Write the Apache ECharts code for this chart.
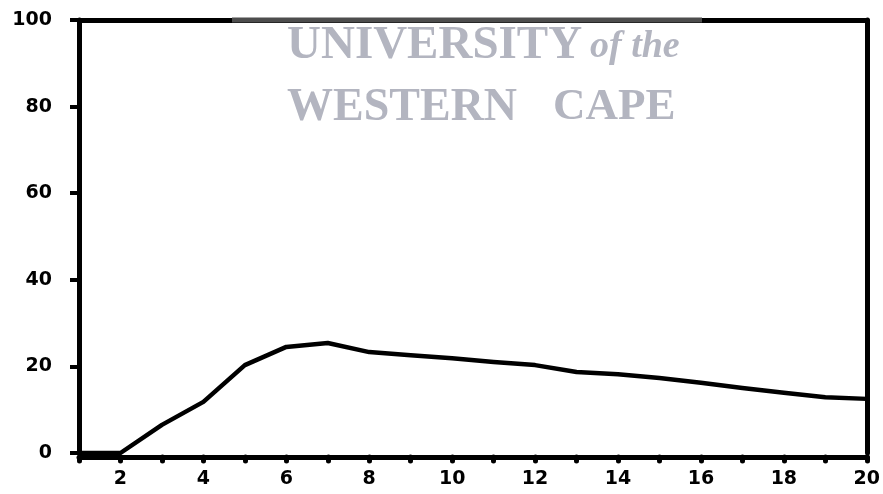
<!DOCTYPE html>
<html>
<head>
<meta charset="utf-8">
<script src="https://cdn.jsdelivr.net/npm/echarts@6/dist/echarts.min.js"></script>
<style>
html,body{margin:0;padding:0;background:#fff;}
#chart{width:883px;height:494px;}
</style>
</head>
<body>
<div id="chart"></div>
<script>
const xValues = [1,2,3,4,5,6,7,8,9,10,11,12,13,14,15,16,17,18,19,20];
const yValues = [0,0,6.5,11.8,20.3,24.5,25.4,23.3,22.6,21.9,21.0,20.3,18.7,18.2,17.3,16.2,15.0,13.9,12.9,12.5];
const yTicks = [0,20,40,60,80,100];
const watermarkLine1 = 'UNIVERSITY';
const watermarkLine1b = 'of the';
const watermarkWord1 = 'WESTERN';
const watermarkWord2 = 'CAPE';

const chart = echarts.init(document.getElementById('chart'), null, {renderer:'canvas'});
const labelFont = {fontFamily:'DejaVu Sans, Liberation Sans, sans-serif', fontWeight:'bold', fontSize:19, color:'#000'};
const wmColor = '#b3b5c0';
const wmFont = 'Liberation Serif, DejaVu Serif, serif';

chart.setOption({
  animation:false,
  backgroundColor:'#fff',
  grid:{left:79,right:13,top:20,bottom:41,containLabel:false},
  xAxis:[{
    type:'value', min:1, max:20, interval:1, offset:4,
    axisLine:{show:true,onZero:false,lineStyle:{color:'#000',width:5}},
    axisTick:{show:true,inside:false,length:4,lineStyle:{color:'#000',width:5,cap:'round'}},
    axisLabel:Object.assign({margin:13,formatter:v=>v%2===0?String(v):''},labelFont),
    splitLine:{show:false}
  },{
    type:'value', min:1, max:20, position:'top',
    axisLine:{show:true,onZero:false,lineStyle:{color:'#000',width:5}},
    axisTick:{show:false}, axisLabel:{show:false}, splitLine:{show:false}
  }],
  yAxis:[{
    type:'value', min:yTicks[0], max:yTicks[yTicks.length-1], interval:20,
    axisLine:{show:true,onZero:false,lineStyle:{color:'#000',width:5}},
    axisTick:{show:true,length:9,lineStyle:{color:'#000',width:4}},
    axisLabel:Object.assign({margin:27},labelFont),
    splitLine:{show:false}
  },{
    type:'value', min:0, max:100, position:'right',
    axisLine:{show:true,onZero:false,lineStyle:{color:'#000',width:5}},
    axisTick:{show:false}, axisLabel:{show:false}, splitLine:{show:false}
  }],
  series:[{
    type:'line',
    data:xValues.map((x,i)=>[x,yValues[i]]),
    symbol:'none',
    lineStyle:{color:'#000',width:4.5,join:'round'},
    z:3
  }],
  graphic:[
    {type:'rect',shape:{x:232,y:17.5,width:470,height:5},style:{fill:'#4d4d4d'},z:50},
    {type:'text',left:287,top:22,style:{text:watermarkLine1,font:'bold 47px '+wmFont,fill:wmColor},z:50},
    {type:'text',left:590,top:28,style:{text:watermarkLine1b,font:'italic bold 38px '+wmFont,fill:wmColor},z:50},
    {type:'text',left:287,top:85,style:{text:watermarkWord1,font:'bold 46px '+wmFont,fill:wmColor},z:50},
    {type:'text',left:553,top:85,style:{text:watermarkWord2,font:'bold 45px '+wmFont,fill:wmColor},z:50}
  ]
});
</script>
</body>
</html>
